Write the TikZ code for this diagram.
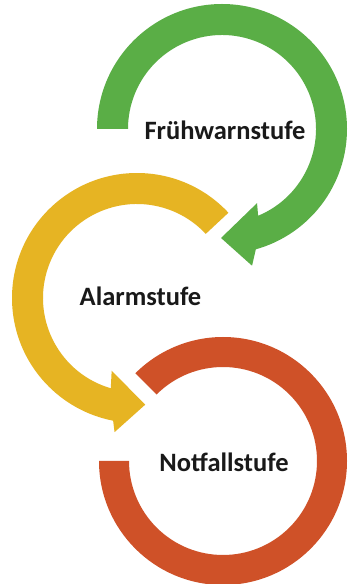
\documentclass[tikz,border=0pt]{standalone}
\usepackage{fontspec}
\setmainfont{Carlito}
\definecolor{cgreen}{HTML}{5AAE46}
\definecolor{cyellow}{HTML}{E6B423}
\definecolor{cred}{HTML}{CF5128}
\begin{document}
\begin{tikzpicture}[x=1pt,y=1pt,
  lbl/.style={font=\bfseries\fontsize{26.5}{30}\selectfont, text=black!90, inner sep=0pt}]
\useasboundingbox[fill=white] (0,0) rectangle (354,584);
% green ring with arrow
\begin{scope}[shift={(222,455)}]
  \fill[cgreen] (180:125) arc[start angle=180, end angle=-74.3, radius=125]
    -- (-77.6:140) -- (-90.5:109) -- (-64.7:82) -- (-67.4:94)
    arc[start angle=-67.4, end angle=180, radius=94] -- cycle;
\end{scope}
% yellow ring with arrow
\begin{scope}[shift={(137,286)}]
  \fill[cyellow] (43:125) arc[start angle=43, end angle=259, radius=125]
    -- (260.5:136) -- (274.4:107) -- (250.8:77) -- (253.8:94)
    arc[start angle=253.8, end angle=43, radius=94] -- cycle;
\end{scope}
% red ring
\begin{scope}[shift={(223,123)}]
  \fill[cred] (180:124) arc[start angle=180, end angle=495, radius=124]
    -- (495:94) arc[start angle=495, end angle=180, radius=94] -- cycle;
\end{scope}
\node[lbl] (fw) at (225,454) {Frühwarnstufe};
\node[lbl] (al) at (140.5,288) {Alarmstufe};
\node[lbl] (nf) at (224,122) {Notfallstufe};
\end{tikzpicture}
\end{document}
